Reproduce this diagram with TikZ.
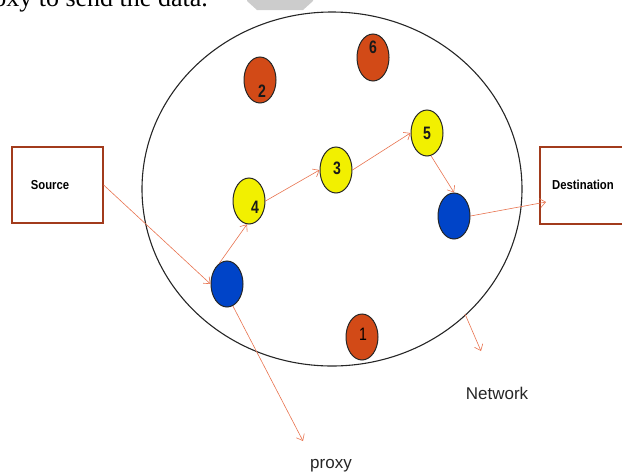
\documentclass[tikz,border=0pt]{standalone}
\usepackage{fontspec}
\setmainfont{Liberation Sans}
\newfontfamily\seriffont{Liberation Serif}
\usetikzlibrary{arrows.meta,calc,shapes.geometric}
\definecolor{linkc}{HTML}{E8734F}
\definecolor{boxc}{HTML}{A23B1C}
\definecolor{orangec}{HTML}{D24A17}
\definecolor{yellowc}{HTML}{F2F000}
\definecolor{bluec}{HTML}{0044C8}
\definecolor{greyc}{HTML}{CCCCCC}
\begin{document}
\begin{tikzpicture}[x=1pt,y=-1pt,
  peer/.style={ellipse, draw=black!85, line width=1pt, minimum width=32pt, minimum height=46pt, inner sep=0pt},
  redpeer/.style={peer, fill=orangec},
  yelpeer/.style={peer, fill=yellowc},
  bluepeer/.style={peer, fill=bluec},
  num/.style={font=\fontsize{18}{18}\selectfont\bfseries, xscale=0.78, inner sep=0pt, text=black!90},
  endbox/.style={draw=boxc, line width=1.3pt, inner sep=0pt},
  boxlabel/.style={font=\fontsize{13}{13}\selectfont\bfseries, xscale=0.87, inner sep=0pt},
  link/.style={draw=linkc, line width=0.6pt, -{Straight Barb[length=5.5pt,width=9pt]}},
  label/.style={font=\fontsize{17}{17}\selectfont, inner sep=0pt, text=black!85}
]
\useasboundingbox (0,0) rectangle (622,472);
\clip (0,0) rectangle (622,472);

% cropped text and grey shape at top
\node[font=\seriffont\fontsize{26}{26}\selectfont, anchor=base east, inner sep=0pt] (toptext) at (208,6.5) {proxy to send the data.};
\fill[greyc] (247,-5) -- (313,-5) -- (313,1) -- (303,10) -- (257,10) -- (247,1) -- cycle;

% network ellipse
\node[ellipse, draw=black!85, line width=1.1pt, minimum width=380pt, minimum height=354pt, inner sep=0pt] (net) at (332,189) {};

% source / destination boxes
\node[endbox, minimum width=91pt, minimum height=76pt] (src) at (57.5,185) {};
\node[boxlabel] (srclabel) at (50,185) {Source};
\node[endbox, minimum width=90pt, minimum height=77pt] (dst) at (585,185.5) {};
\node[boxlabel] (dstlabel) at (583,185) {Destination};

% peers
\node[redpeer] (n2) at (260,80) {};
\node[num] (n2l) at (262,91) {2};
\node[redpeer, minimum height=47pt] (n6) at (373,57.5) {};
\node[num] (n6l) at (373,47) {6};
\node[yelpeer] (n4) at (249,201) {};
\node[num] (n4l) at (255,207) {4};
\node[yelpeer] (n3) at (336,170) {};
\node[num] (n3l) at (337,168) {3};
\node[yelpeer] (n5) at (427,133) {};
\node[num] (n5l) at (427,133) {5};
\node[bluepeer] (bl) at (227,284) {};
\node[bluepeer] (br) at (454,216) {};
\node[redpeer] (n1) at (362,337) {};
\node[font=\fontsize{18}{18}\selectfont, xscale=0.78, inner sep=0pt] (n1l) at (363,334) {1};

% connectors
\coordinate (srcout) at ($(src.east)+(0,0)$);
\draw[link] (srcout) -- (bl.west);
\draw[link] (bl.110) -- (n4.-95);
\draw[link] (n4.east) -- (n3.west);
\draw[link] (n3.east) -- (n5.west);
\draw[link] (n5.-80) -- (br.90);
\coordinate (dstin) at (546,202);
\draw[link] (br.east) -- (dstin);

% labels and pointers
\coordinate (netpt) at (465,314);
\coordinate (netend) at (481,351);
\draw[link] (netpt) -- (netend);
\node[label] (netlabel) at (497,393) {Network};
\coordinate (proxyend) at (303,441);
\draw[link] (bl.-75) -- (proxyend);
\node[label, anchor=base] (proxylabel) at (331,468) {proxy};
\end{tikzpicture}
\end{document}
